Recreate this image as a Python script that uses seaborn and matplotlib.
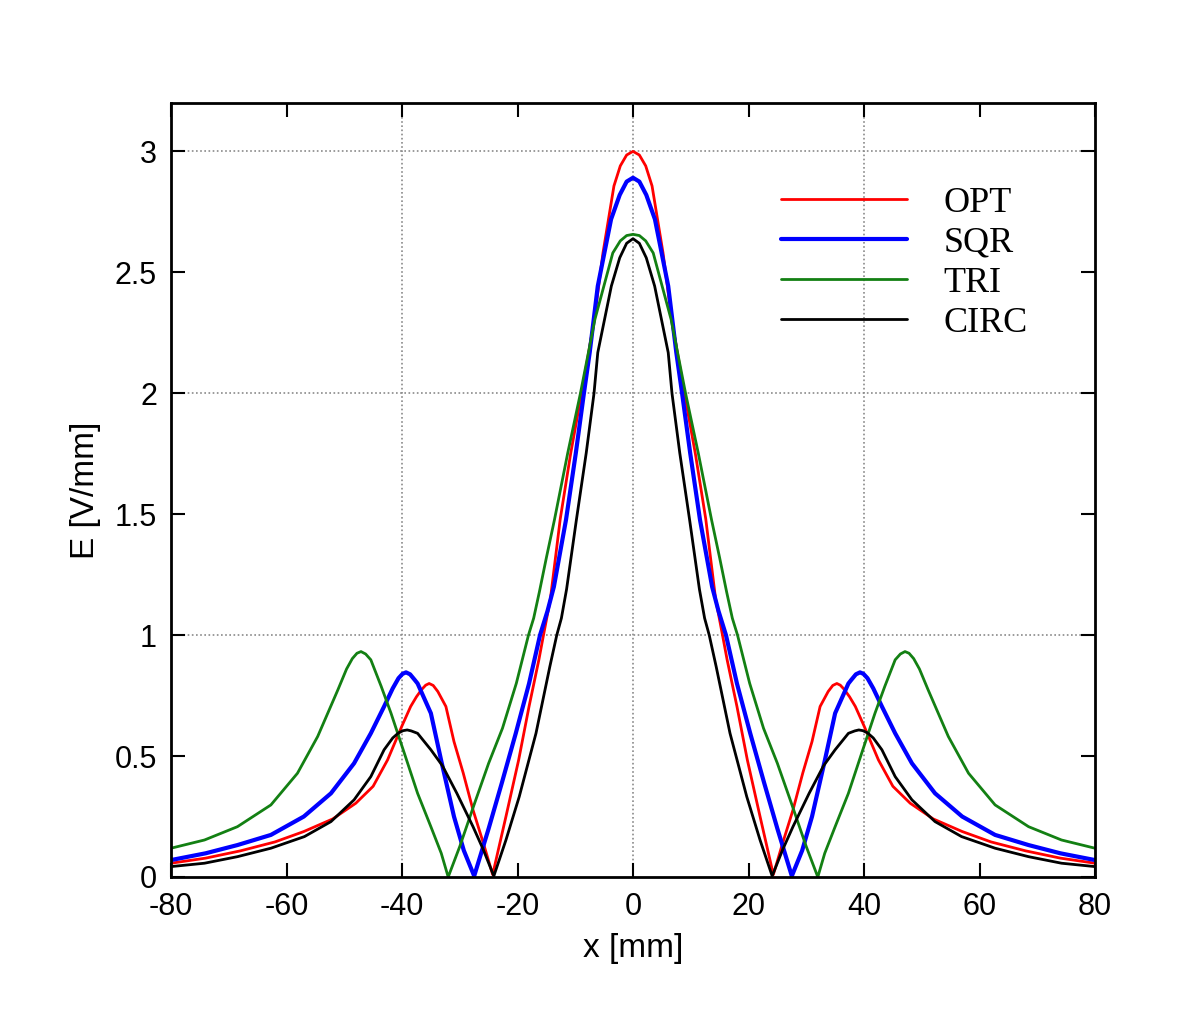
import numpy as np
import pandas as pd
import seaborn as sns
import matplotlib
matplotlib.use("Agg")
import matplotlib.pyplot as plt

# ---------------- data ----------------
opt_x = [-80, -74, -68, -62, -57, -52, -48, -45, -42.5, -40, -38.5, -37.5, -36.6, -35.9, -35.3, -34.6,
         -33.8, -32.4, -31, -29.4, -27.7, -25.9, -24.3, -22, -19.8, -18, -16.3, -15.5, -14.3, -12.6,
         -10.8, -8.9, -6.7, -5.2, -3.3, -2.2, -1.1, 0,
         1.1, 2.2, 3.3, 5.2, 6.7, 8.9, 10.8, 12.6, 14.3, 15.5, 16.3, 18, 19.8, 22, 24.3, 25.9, 27.7,
         29.4, 31, 32.4, 33.8, 34.6, 35.3, 35.9, 36.6, 37.5, 38.5, 40, 42.5, 45, 48, 52, 57, 62, 68,
         74, 80]
opt_y = [0.057, 0.078, 0.108, 0.145, 0.188, 0.24, 0.305, 0.375, 0.484, 0.625, 0.705, 0.745, 0.775,
         0.793, 0.80, 0.792, 0.767, 0.705, 0.56, 0.43, 0.277, 0.139, 0.01, 0.25, 0.484, 0.705, 0.898,
         1.0, 1.15, 1.48, 1.75, 2.0, 2.305, 2.58, 2.857, 2.94, 2.985, 3.0,
         2.985, 2.94, 2.857, 2.58, 2.305, 2.0, 1.75, 1.48, 1.15, 1.0, 0.898, 0.705, 0.484, 0.25, 0.01,
         0.139, 0.277, 0.43, 0.56, 0.705, 0.767, 0.792, 0.80, 0.793, 0.775, 0.745, 0.705, 0.625, 0.484,
         0.375, 0.305, 0.24, 0.188, 0.145, 0.108, 0.078, 0.057]

sqr_x = [-80, -74, -68.5, -62.7, -57, -52.3, -48.3, -45.4, -43.1, -41.6, -40.6, -39.9, -39.3, -38.6,
         -37.8, -37.3, -35, -33.2, -31, -29.3, -27.5, -25, -22.7, -20.3, -18, -16.1, -14.8, -13.7,
         -11.6, -9.9, -8.5, -7.5, -6.1, -3.8, -2.3, -1.1, 0,
         1.1, 2.3, 3.8, 6.1, 7.5, 8.5, 9.9, 11.6, 13.7, 14.8, 16.1, 18, 20.3, 22.7, 25, 27.5, 29.3, 31,
         33.2, 35, 37.3, 37.8, 38.6, 39.3, 39.9, 40.6, 41.6, 43.1, 45.4, 48.3, 52.3, 57, 62.7, 68.5,
         74, 80]
sqr_y = [0.07, 0.098, 0.132, 0.174, 0.25, 0.346, 0.47, 0.594, 0.705, 0.78, 0.822, 0.84, 0.846, 0.838,
         0.815, 0.80, 0.677, 0.48, 0.25, 0.11, 0.004, 0.2, 0.39, 0.594, 0.80, 1.0, 1.1, 1.2, 1.477,
         1.753, 2.0, 2.168, 2.443, 2.719, 2.82, 2.875, 2.891,
         2.875, 2.82, 2.719, 2.443, 2.168, 2.0, 1.753, 1.477, 1.2, 1.1, 1.0, 0.80, 0.594, 0.39, 0.2,
         0.004, 0.11, 0.25, 0.48, 0.677, 0.80, 0.815, 0.838, 0.846, 0.84, 0.822, 0.78, 0.705, 0.594,
         0.47, 0.346, 0.25, 0.174, 0.132, 0.098, 0.07]

tri_x = [-80, -74.2, -68.5, -62.7, -58.1, -54.6, -51.1, -49.6, -48.6, -47.8, -47.1, -46.3, -45.4,
         -43.6, -41.9, -39.6, -37.3, -35, -33.2, -32, -30, -27.5, -25, -22.6, -20.2, -18.1, -17.2,
         -16.2, -15, -13.6, -11.3, -9.1, -6.6, -3.5, -2.2, -1.1, 0,
         1.1, 2.2, 3.5, 6.6, 9.1, 11.3, 13.6, 15, 16.2, 17.2, 18.1, 20.2, 22.6, 25, 27.5, 30, 32, 33.2,
         35, 37.3, 39.6, 41.9, 43.6, 45.4, 46.3, 47.1, 47.8, 48.6, 49.6, 51.1, 54.6, 58.1, 62.7, 68.5,
         74.2, 80]
tri_y = [0.119, 0.153, 0.208, 0.298, 0.429, 0.581, 0.774, 0.86, 0.903, 0.925, 0.932, 0.922, 0.898,
         0.788, 0.677, 0.512, 0.346, 0.208, 0.098, 0.0, 0.126, 0.30, 0.47, 0.615, 0.801, 1.0, 1.07,
         1.18, 1.32, 1.477, 1.753, 2.0, 2.305, 2.58, 2.63, 2.652, 2.657,
         2.652, 2.63, 2.58, 2.305, 2.0, 1.753, 1.477, 1.32, 1.18, 1.07, 1.0, 0.801, 0.615, 0.47, 0.30,
         0.126, 0.0, 0.098, 0.208, 0.346, 0.512, 0.677, 0.788, 0.898, 0.922, 0.932, 0.925, 0.903,
         0.86, 0.774, 0.581, 0.429, 0.298, 0.208, 0.153, 0.119]

circ_x = [-80, -74.2, -68.5, -62.7, -56.9, -52.3, -48.3, -45.4, -43.1, -41.6, -40.6, -39.8, -39.1,
          -38.4, -37.3, -35, -33, -30.5, -27.7, -25.9, -24.1, -22, -19.7, -16.8, -14.4, -13.2, -12.4,
          -11.5, -9.8, -8.1, -6.75, -6.1, -3.75, -2.3, -1.1, 0,
          1.1, 2.3, 3.75, 6.1, 6.75, 8.1, 9.8, 11.5, 12.4, 13.2, 14.4, 16.8, 19.7, 22, 24.1, 25.9,
          27.7, 30.5, 33, 35, 37.3, 38.4, 39.1, 39.8, 40.6, 41.6, 43.1, 45.4, 48.3, 52.3, 56.9, 62.7,
          68.5, 74.2, 80]
circ_y = [0.043, 0.057, 0.084, 0.119, 0.167, 0.229, 0.319, 0.415, 0.526, 0.575, 0.596, 0.605, 0.608,
          0.604, 0.594, 0.526, 0.46, 0.346, 0.208, 0.112, 0.004, 0.153, 0.332, 0.594, 0.870, 1.0,
          1.07, 1.19, 1.477, 1.753, 2.0, 2.168, 2.443, 2.56, 2.62, 2.639,
          2.62, 2.56, 2.443, 2.168, 2.0, 1.753, 1.477, 1.19, 1.07, 1.0, 0.870, 0.594, 0.332, 0.153,
          0.004, 0.112, 0.208, 0.346, 0.46, 0.526, 0.594, 0.604, 0.608, 0.605, 0.596, 0.575, 0.526,
          0.415, 0.319, 0.229, 0.167, 0.119, 0.084, 0.057, 0.043]

series_names = ["OPT", "SQR", "TRI", "CIRC"]
series_colors = ["#ff0000", "#0000ff", "#138013", "#000000"]
series_widths = [2.0, 3.0, 2.0, 2.0]

x_ticks = [-80, -60, -40, -20, 0, 20, 40, 60, 80]
y_ticks = [0, 0.5, 1, 1.5, 2, 2.5, 3]
y_tick_labels = ["0", "0.5", "1", "1.5", "2", "2.5", "3"]
x_grid = [-40, 0, 40]
y_grid = [1, 2, 3]

# ---------------- plotting ----------------
sns.set_style("ticks")
plt.rcParams["font.family"] = ["Liberation Sans", "DejaVu Sans"]
plt.rcParams["text.color"] = "black"
plt.rcParams["axes.labelcolor"] = "black"
plt.rcParams["xtick.color"] = "black"
plt.rcParams["ytick.color"] = "black"

fig = plt.figure(figsize=(11.99, 10.11), dpi=100)
ax = fig.add_axes([171 / 1199, (1011 - 877) / 1011, 924 / 1199, 774 / 1011])

for gx in x_grid:
    ax.axvline(gx, color="#8a8a8a", lw=1.2, ls=(0, (1, 1.5)), zorder=0)
for gy in y_grid:
    ax.axhline(gy, color="#8a8a8a", lw=1.2, ls=(0, (1, 1.5)), zorder=0)

all_x = [opt_x, sqr_x, tri_x, circ_x]
all_y = [opt_y, sqr_y, tri_y, circ_y]
for xs, ys, name, col, lw in zip(all_x, all_y, series_names, series_colors, series_widths):
    df = pd.DataFrame({"x": xs, "E": ys})
    sns.lineplot(data=df, x="x", y="E", ax=ax, color=col, linewidth=lw, label=name,
                 sort=False, estimator=None)

ax.set_xlim(-80, 80)
ax.set_ylim(0, 3.2)
ax.set_xticks(x_ticks)
ax.set_xticklabels([str(t) for t in x_ticks])
ax.set_yticks(y_ticks)
ax.set_yticklabels(y_tick_labels)
ax.tick_params(direction="in", length=10, width=1.5, labelsize=22,
               top=True, right=True, colors="black", labelcolor="black")
ax.tick_params(axis="x", pad=11)
ax.tick_params(axis="y", pad=10)
for sp in ax.spines.values():
    sp.set_linewidth(2)
    sp.set_color("black")

ax.set_xlabel("x [mm]", fontsize=24, labelpad=8, color="black")
ax.set_ylabel("E [V/mm]", fontsize=24, labelpad=10, color="black")

leg = ax.legend(loc="upper left", bbox_to_anchor=(0.66, 0.892), frameon=False,
                prop={"family": "Liberation Serif", "size": 26},
                handlelength=3.5, handletextpad=1.0, labelspacing=0.185, borderpad=0,
                borderaxespad=0)
for t in leg.get_texts():
    t.set_color("black")

fig.savefig("out.png", dpi=100)
